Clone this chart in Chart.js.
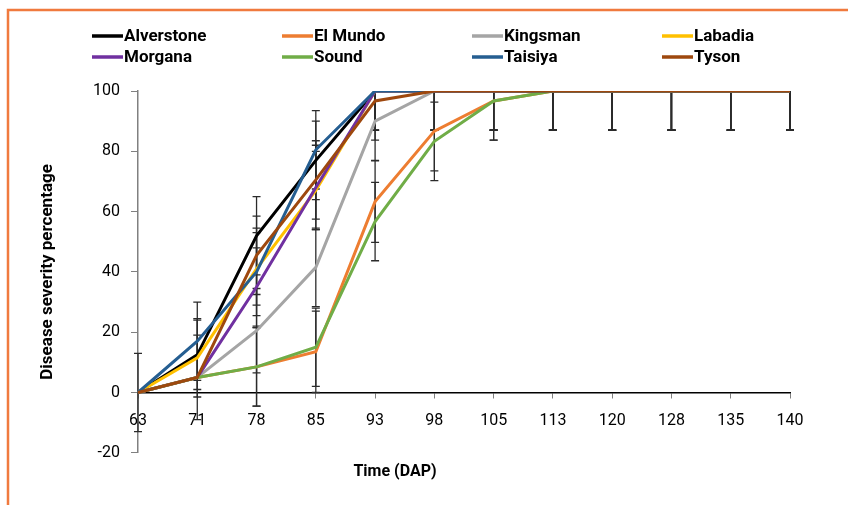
<!DOCTYPE html>
<html>
<head>
<meta charset="utf-8">
<script src="https://cdn.jsdelivr.net/npm/chart.js@4/dist/chart.umd.min.js"></script>
<style>
  html, body { margin: 0; padding: 0; background: #fff; }
  canvas { display: block; }
</style>
</head>
<body>
<canvas id="severity" width="848" height="505"></canvas>
<script>
// disease severity over time, one line per variety, with error bars

const days = ['63', '71', '78', '85', '93', '98', '105', '113', '120', '128', '135', '140'];
const varieties = ['Alverstone', 'El Mundo', 'Kingsman', 'Labadia', 'Morgana', 'Sound', 'Taisiya', 'Tyson'];

const alverstone = [0, 12.5, 52, 77, 100, 100, 100, 100, 100, 100, 100, 100];
const elMundo    = [0, 5, 8.5, 13.5, 63.3, 86.7, 96.7, 100, 100, 100, 100, 100];
const kingsman   = [0, 5, 20.5, 41.5, 90, 100, 100, 100, 100, 100, 100, 100];
const labadia    = [0, 11.5, 41, 67, 100, 100, 100, 100, 100, 100, 100, 100];
const morgana    = [0, 5, 35, 68, 100, 100, 100, 100, 100, 100, 100, 100];
const sound      = [0, 5, 8.5, 15, 56.7, 83.3, 96.7, 100, 100, 100, 100, 100];
const taisiya    = [0, 17, 40, 80.5, 100, 100, 100, 100, 100, 100, 100, 100];
const tyson      = [0, 5, 45.5, 70.5, 96.7, 100, 100, 100, 100, 100, 100, 100];

// error bar half-widths
const alverstoneSd = [13, 11.5, 13, 13, 13, 13, 13, 13, 13, 13, 13, 13];
const elMundoSd    = [0, 0, 13, 13.5, 13.5, 13.2, 13, 13, 13, 13, 13, 13];
const kingsmanSd   = [0, 14, 14, 13, 13, 13, 13, 13, 13, 13, 13, 13];
const labadiaSd    = [0, 13, 12, 13, 13, 13, 13, 13, 13, 13, 13, 13];
const morganaSd    = [0, 0, 13, 14, 13, 13, 13, 13, 13, 13, 13, 13];
const soundSd      = [0, 0, 13, 13, 13, 13, 13, 13, 13, 13, 13, 13];
const taisiyaSd    = [0, 13, 14.5, 13, 13, 13, 13, 13, 13, 13, 13, 13];
const tysonSd      = [0, 0, 13, 13, 13, 13, 13, 13, 13, 13, 13, 13];

const COLORS = ['#000000', '#ED7D31', '#A5A5A5', '#FFC000', '#7030A0', '#70AD47', '#255E91', '#9E480E'];
const FONT = "'Roboto', 'Liberation Sans', sans-serif";

const seriesVals = [alverstone, elMundo, kingsman, labadia, morgana, sound, taisiya, tyson];
const seriesSd = [alverstoneSd, elMundoSd, kingsmanSd, labadiaSd, morganaSd, soundSd, taisiyaSd, tysonSd];

const datasets = varieties.map((name, i) => ({
  label: name,
  data: seriesVals[i],
  sd: seriesSd[i],
  borderColor: COLORS[i],
  backgroundColor: COLORS[i],
  borderWidth: 3,
  pointRadius: 0,
  tension: 0,
  order: varieties.length - i   // later series on top, like excel
}));

// orange frame around the chart
const framePlugin = {
  id: 'frame',
  beforeDraw(chart) {
    const c = chart.ctx;
    c.save();
    c.strokeStyle = '#F07A3E';
    c.lineWidth = 2.5;
    c.strokeRect(8, 10, 900, 600);
    c.restore();
  }
};

// vertical error bars with caps, clipped to the plot area
const errorBarPlugin = {
  id: 'errorBars',
  beforeDatasetsDraw(chart) {
    const { ctx: c, chartArea: area, scales: { x, y } } = chart;
    c.save();
    c.beginPath();
    c.rect(area.left - 6, area.top, area.width + 12, area.height);
    c.clip();
    c.strokeStyle = '#2b2b2b';
    c.lineWidth = 1.3;
    chart.data.datasets.forEach(ds => {
      ds.data.forEach((v, j) => {
        const e = ds.sd[j];
        if (!e) return;
        const px = x.getPixelForValue(j);
        const top = y.getPixelForValue(v + e);
        const bot = y.getPixelForValue(v - e);
        c.beginPath();
        c.moveTo(px, top); c.lineTo(px, bot);
        c.moveTo(px - 4, top); c.lineTo(px + 4, top);
        c.moveTo(px - 4, bot); c.lineTo(px + 4, bot);
        c.stroke();
      });
    });
    c.restore();
  }
};

// legend in a 4-column grid, like the excel one
const gridLegendPlugin = {
  id: 'gridLegend',
  afterDraw(chart) {
    const c = chart.ctx;
    const colX = [92, 282, 472, 662];
    const rowY = [36, 57];
    c.save();
    c.font = "bold 17px " + FONT;
    c.textBaseline = 'middle';
    c.fillStyle = '#000';
    chart.data.datasets.forEach((ds, i) => {
      const bx = colX[i % 4];
      const by = rowY[Math.floor(i / 4)];
      c.strokeStyle = ds.borderColor;
      c.lineWidth = 3.5;
      c.beginPath();
      c.moveTo(bx, by); c.lineTo(bx + 31, by);
      c.stroke();
      c.fillText(ds.label, bx + 32, by + 1);
    });
    c.restore();
  }
};

new Chart(document.getElementById('severity'), {
  type: 'line',
  data: { labels: days, datasets },
  options: {
    responsive: false,
    animation: false,
    layout: { padding: { top: 91, right: 58, bottom: 23, left: 0 } },
    plugins: {
      legend: { display: false },
      tooltip: { enabled: false },
      title: {
        display: true,
        text: 'Time (DAP)',
        position: 'bottom',
        color: '#000',
        font: { family: FONT, size: 16, weight: 'bold' },
        padding: { top: 10, bottom: 0 }
      }
    },
    scales: {
      x: {
        type: 'category',
        position: { y: 0 },
        offset: false,
        grid: { drawOnChartArea: false, drawTicks: true, tickLength: 5, color: '#7f7f7f' },
        border: { display: true, color: '#000', width: 1.5 },
        ticks: { color: '#000', padding: 14, maxRotation: 0, autoSkip: false, font: { family: FONT, size: 16 } },
        afterFit: s => { s.height = 0; }
      },
      y: {
        min: -20,
        max: 100,
        ticks: { stepSize: 20, color: '#000', padding: 11, font: { family: FONT, size: 16 } },
        grid: { drawOnChartArea: false, drawTicks: true, tickLength: 7, color: '#808080' },
        border: { display: true, color: '#808080', width: 1.5 },
        title: {
          display: true,
          text: 'Disease severity percentage',
          color: '#000',
          font: { family: FONT, size: 17, weight: 'bold' },
          padding: { top: 38, bottom: 0 }
        },
        afterFit: s => { s.width = 138; }
      }
    }
  },
  plugins: [framePlugin, errorBarPlugin, gridLegendPlugin]
});
</script>
</body>
</html>
